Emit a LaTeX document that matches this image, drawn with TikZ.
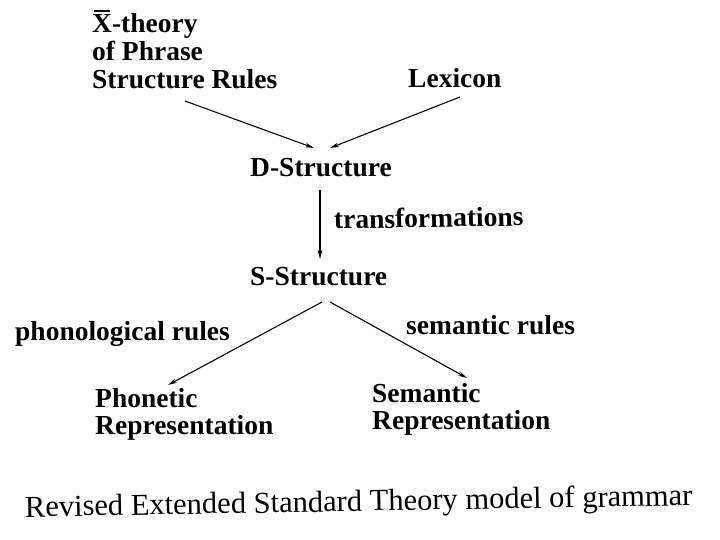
\documentclass[tikz,border=0pt]{standalone}
\usepackage{fontspec}
\setmainfont{Liberation Serif}
\usetikzlibrary{arrows.meta}
\newcommand{\barX}{\ooalign{X\cr\hidewidth\rule[0.78em]{0.6em}{0.07em}\hidewidth}}
\begin{document}
\begin{tikzpicture}[x=1pt,y=-1pt,
  lbl/.style={anchor=base west, inner sep=0pt, font=\bfseries\fontsize{27.5}{27}\selectfont, align=left},
  captxt/.style={anchor=base west, inner sep=0pt, font=\fontsize{30.5}{32}\selectfont},
  arr/.style={-{Stealth[length=9pt,width=4.5pt]}, line width=1.1pt}]
\useasboundingbox[fill=white] (0,0) rectangle (720,540);
\node[lbl, font=\bfseries\fontsize{27.5}{28}\selectfont] (xbar) at (92,89) {\barX-theory\\of Phrase\\Structure Rules};
\node[lbl] (lex) at (408,88) {Lexicon};
\node[lbl] (ds) at (250,177) {D-Structure};
\node[lbl, rotate=1] (tr) at (334,229) {transformations};
\node[lbl] (ss) at (250,285) {S-Structure};
\node[lbl] (pr) at (15,340) {phonological rules};
\node[lbl] (sr) at (406,334) {semantic rules};
\node[lbl] (pho) at (95,434) {Phonetic\\Representation};
\node[lbl] (sem) at (372,429) {Semantic\\Representation};
\node[captxt, rotate=1] (capt) at (25,517) {Revised Extended Standard Theory model of grammar};
\coordinate (a1s) at (185,101);
\coordinate (a1e) at (314,148);
\coordinate (a2s) at (460,97);
\coordinate (a2e) at (330,148);
\coordinate (a3s) at (320,190);
\coordinate (a3e) at (320,259);
\coordinate (a4s) at (322,302);
\coordinate (a4e) at (168,385);
\coordinate (a5s) at (330,302);
\coordinate (a5e) at (467,378);
\draw[arr] (a1s) -- (a1e);
\draw[arr] (a2s) -- (a2e);
\draw[arr] (a3s) -- (a3e);
\draw[arr] (a4s) -- (a4e);
\draw[arr] (a5s) -- (a5e);
\end{tikzpicture}
\end{document}
